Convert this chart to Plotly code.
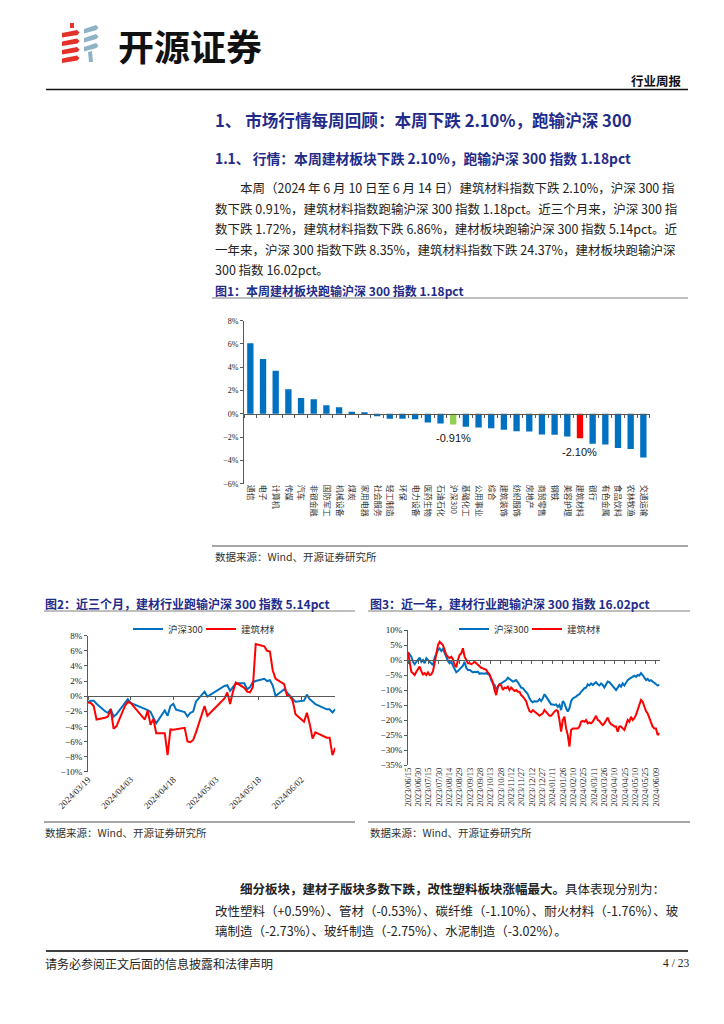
import plotly.graph_objects as go
import pandas as pd

W, H = 724, 1024
def X(px): return px / W
def Y(py): return 1 - py / H

# ---------------- data ----------------
industries = ["通信", "电子", "计算机", "传媒", "汽车", "非银金融", "国防军工", "机械设备",
              "煤炭", "家用电器", "社会服务", "轻工制造", "环保", "电力设备", "医药生物",
              "石油石化", "沪深300", "基础化工", "公用事业", "综合", "建筑装饰", "纺织服饰",
              "房地产", "商贸零售", "钢铁", "美容护理", "建筑材料", "银行", "有色金属",
              "食品饮料", "农林牧渔", "交通运输"]
weekly_chg = [6.06, 4.71, 3.71, 2.11, 1.37, 1.26, 0.74, 0.57, 0.17, 0.14, -0.20, -0.43,
              -0.43, -0.46, -0.74, -0.83, -0.91, -1.11, -1.17, -1.23, -1.37, -1.49, -1.51,
              -1.77, -1.80, -1.94, -2.10, -2.57, -2.63, -2.94, -3.03, -3.74]
highlight = {"沪深300": "#92D050", "建筑材料": "#FF0000"}

dates_3m = ["2024-03-19", "2024-03-20", "2024-03-21", "2024-03-22", "2024-03-25", "2024-03-26",
            "2024-03-27", "2024-03-28", "2024-03-29", "2024-04-01", "2024-04-02", "2024-04-03",
            "2024-04-08", "2024-04-09", "2024-04-10", "2024-04-11", "2024-04-12", "2024-04-15",
            "2024-04-16", "2024-04-17", "2024-04-18", "2024-04-19", "2024-04-22", "2024-04-23",
            "2024-04-24", "2024-04-25", "2024-04-26", "2024-04-29", "2024-04-30", "2024-05-06",
            "2024-05-07", "2024-05-08", "2024-05-09", "2024-05-10", "2024-05-13", "2024-05-14",
            "2024-05-15", "2024-05-16", "2024-05-17", "2024-05-20", "2024-05-21", "2024-05-22",
            "2024-05-23", "2024-05-24", "2024-05-27", "2024-05-28", "2024-05-29", "2024-05-30",
            "2024-05-31", "2024-06-03", "2024-06-04", "2024-06-05", "2024-06-06", "2024-06-07",
            "2024-06-11", "2024-06-12", "2024-06-13", "2024-06-14"]
hs300_3m = [-0.8, -0.6, -0.6, -1.0, -2.0, -2.2, -1.7, -2.7, -2.4, -0.8, -0.4, -0.9,
            -1.65, -1.85, -2.1, -2.9, -3.6, -1.9, -2.6, -1.3, -1.0, -1.8, -2.1, -2.7,
            -2.2, -2.05, -0.7, 0.6, -0.05, 1.35, 1.45, 0.7, 1.2, 1.7, 1.7, 0.9,
            1.2, 1.85, 2.0, 2.3, 2.0, 2.1, 1.4, 0.0, 0.9, 0.5, 0.05, -0.4,
            -0.75, -0.6, 0.2, -0.4, -0.75, -1.05, -1.75, -1.75, -2.15, -1.72]
jc_3m = [-0.85, -0.9, -1.3, -3.1, -2.85, -2.7, -1.7, -4.3, -4.0, -1.3, -0.75, -0.9,
         -3.1, -1.9, -3.8, -3.0, -4.9, -4.9, -7.8, -4.4, -4.45, -4.4, -4.2, -6.0,
         -6.1, -5.8, -4.8, -1.3, -2.6, -0.3, 0.5, -1.05, 0.6, 1.8, 1.1, 0.6,
         0.5, 1.2, 6.9, 6.6, 6.0, 5.9, 3.4, 2.3, 1.6, 0.1, 0.0, -0.6,
         -2.4, -3.4, -2.2, -3.7, -5.6, -4.8, -5.5, -5.5, -7.8, -6.86]
ticks_3m = "2024-03-19"

hs300_1y = [2.6, 1.9, 1.1, -0.6, -1.4, -0.6, 0.0, 0.8, -0.6, 0.0, -1.1, 0.6, 0.0, -0.6, -1.1, -1.7,
            0.8, 2.2, 3.3, 3.9, 3.0, 3.7, 2.2, 1.1, -0.3, -1.1, -0.6, -1.9, -3.3, -4.1, -3.7, -3.0,
            -2.2, -1.9, -0.6, -2.6, -3.3, -3.3, -3.7, -4.1, -3.9, -4.1, -3.9, -4.6, -4.4, -4.6, -4.6, -4.4,
            -4.8, -5.0, -6.7, -7.8, -8.3, -10.0, -8.9, -8.1, -7.8, -7.4, -7.2, -6.7, -5.9, -6.3, -6.7, -7.2,
            -7.0, -6.7, -7.4, -8.3, -9.2, -9.4, -10.0, -10.6, -11.4, -12.8, -13.7, -14.1, -13.7, -13.9, -13.7, -13.0,
            -13.7, -12.8, -11.4, -12.2, -13.0, -14.1, -14.8, -14.8, -15.0, -14.8, -15.6, -15.0, -16.7, -13.7, -14.4, -16.1,
            -17.2, -16.1, -13.7, -12.8, -12.6, -12.2, -11.7, -11.4, -10.6, -10.0, -9.4, -9.2, -8.1, -8.5, -7.8, -8.3,
            -7.8, -7.4, -8.1, -8.5, -7.8, -8.3, -9.2, -8.1, -7.2, -7.4, -8.1, -8.9, -9.4, -10.0, -9.2, -8.3,
            -8.9, -7.8, -8.5, -7.4, -6.7, -6.3, -5.9, -5.6, -5.2, -5.6, -5.0, -5.2, -4.4, -5.0, -5.9, -6.7,
            -6.3, -7.0, -6.7, -7.2, -7.4, -8.1, -8.5, -8.35]
jc_1y = [2.6, -1.5, -3.9, -4.4, -5.0, -3.9, -3.0, -2.2, -3.7, -4.8, -4.4, -5.0, -4.1, -5.0, -4.8, -3.7,
         -1.0, 2.2, 5.0, 6.1, 5.6, 5.0, 3.3, 1.7, 1.1, 0.6, 1.1, 0.3, -1.7, -2.4, 0.0, 1.7,
         2.2, 3.9, 1.1, -0.3, -1.1, -1.1, -1.4, -1.1, -0.6, -1.1, -1.7, -2.2, -2.6, -2.8, -3.0, -3.3,
         -4.1, -4.8, -6.1, -7.4, -10.0, -11.7, -8.9, -8.1, -8.5, -10.0, -9.2, -9.4, -8.9, -10.0, -9.2, -9.7,
         -10.3, -10.0, -10.6, -10.6, -11.7, -12.2, -12.8, -13.7, -15.6, -17.0, -17.4, -16.7, -17.2, -17.8, -18.1, -18.6,
         -18.3, -17.8, -16.7, -17.4, -18.1, -18.6, -18.6, -17.8, -17.2, -16.7, -17.0, -20.0, -23.9, -20.0, -18.9, -22.8,
         -25.0, -28.9, -23.3, -22.8, -22.8, -22.8, -22.8, -22.2, -20.6, -20.3, -20.6, -20.0, -21.1, -20.8, -21.1, -20.6,
         -19.7, -18.6, -20.0, -20.3, -21.1, -21.7, -21.1, -20.0, -19.2, -20.6, -21.4, -21.7, -22.2, -22.2, -23.9, -22.2,
         -22.2, -22.8, -23.3, -21.7, -20.0, -20.6, -18.9, -20.0, -19.4, -18.3, -16.7, -14.4, -13.3, -13.9, -15.6, -17.0,
         -17.8, -19.4, -21.1, -22.2, -22.8, -22.8, -25.0, -24.37]
dates_1y = pd.date_range("2023-06-15", "2024-06-14", periods=len(hs300_1y))
ticks_1y = "2023-06-15"

series_names = ["沪深300", "建筑材料"]

# ---------------- style ----------------
CJK = "Noto Sans CJK SC"
SERIF = "Liberation Serif"
NAVY = "#1F2C8A"
BLUE = "#0070C0"
RED = "#FF0000"
AX = "#595959"
DAY = 86400000

fig = go.Figure()

# Chart 1: bars
bar_colors = [highlight.get(n, BLUE) for n in industries]
fig.add_trace(go.Bar(x=industries, y=weekly_chg, marker_color=bar_colors, marker_line_width=0,
                     xaxis="x", yaxis="y", showlegend=False, hoverinfo="skip"))
fig.add_trace(go.Scatter(x=[-0.5, len(industries) - 0.5], y=[0, 0], mode="lines", opacity=0,
                         xaxis="x2", yaxis="y", showlegend=False, hoverinfo="skip"))

# Chart 2: three months
fig.add_trace(go.Scatter(x=dates_3m, y=hs300_3m, mode="lines", name=series_names[0],
                         line=dict(color=BLUE, width=2), xaxis="x3", yaxis="y3", legend="legend"))
fig.add_trace(go.Scatter(x=dates_3m, y=jc_3m, mode="lines", name=series_names[1],
                         line=dict(color=RED, width=2), xaxis="x3", yaxis="y3", legend="legend"))
fig.add_trace(go.Scatter(x=[dates_3m[0], dates_3m[-1]], y=[0, 0], mode="lines", opacity=0,
                         xaxis="x4", yaxis="y3", showlegend=False, hoverinfo="skip"))

# Chart 3: one year
fig.add_trace(go.Scatter(x=dates_1y, y=hs300_1y, mode="lines", name=series_names[0],
                         line=dict(color=BLUE, width=2), xaxis="x5", yaxis="y5", legend="legend2"))
fig.add_trace(go.Scatter(x=dates_1y, y=jc_1y, mode="lines", name=series_names[1],
                         line=dict(color=RED, width=2), xaxis="x5", yaxis="y5", legend="legend2"))
fig.add_trace(go.Scatter(x=[dates_1y[0], dates_1y[-1]], y=[0, 0], mode="lines", opacity=0,
                         xaxis="x6", yaxis="y5", showlegend=False, hoverinfo="skip"))

def yax(dom, rng, dtick, size):
    return dict(domain=dom, range=rng, dtick=dtick, ticksuffix="%", showgrid=False, zeroline=False,
                showline=True, linecolor=AX, linewidth=1, ticks="outside", ticklen=3, tickcolor=AX,
                tickfont=dict(family=SERIF, size=size, color="#222"), fixedrange=True)

def zero_ax(over, pos, rng, tick0, dtick, typ):
    return dict(overlaying=over, anchor="free", position=pos, range=rng, type=typ, tick0=tick0,
                dtick=dtick, ticks="outside", ticklen=3, tickcolor=AX, showticklabels=False,
                showline=True, linecolor=AX, linewidth=1, showgrid=False, zeroline=False)

n = len(industries)
legend_common = dict(orientation="h", xanchor="left", yanchor="middle",
                     font=dict(family=CJK, size=9.5, color="#333"), itemwidth=30,
                     entrywidth=28, entrywidthmode="pixels", bgcolor="rgba(0,0,0,0)")
fig.update_layout(
    xaxis=dict(domain=[X(244), X(649.7)], anchor="y", type="category", range=[-0.5, n - 0.5],
               tickangle=90, tickfont=dict(family=CJK, size=8, color="#333"), showline=False,
               ticks="", showgrid=False, zeroline=False),
    yaxis=dict(yax([Y(483.7), Y(320.7)], [-6, 8], 2, 8), anchor="x"),
    xaxis2=zero_ax("x", Y(413.8), [-0.5, n - 0.5], -0.5, 1, "linear"),
    xaxis3=dict(domain=[X(88), X(335.3)], anchor="y3", type="date",
                range=["2024-03-19", "2024-06-14"], tick0=ticks_3m, dtick=15 * DAY,
                tickformat="%Y/%m/%d", tickangle=-45, tickfont=dict(family=SERIF, size=9, color="#222"),
                showline=False, ticks="", showgrid=False, zeroline=False),
    yaxis3=dict(yax([Y(771.7), Y(635.7)], [-10, 8], 2, 9), anchor="x3"),
    xaxis4=zero_ax("x3", Y(696.2), ["2024-03-19", "2024-06-14"], ticks_3m, 15 * DAY, "date"),
    xaxis5=dict(domain=[X(408), X(660)], anchor="y5", type="date",
                range=["2023-06-15", "2024-06-15"], tick0=ticks_1y, dtick=15 * DAY,
                tickformat="%Y/%m/%d", tickangle=-90, tickfont=dict(family=SERIF, size=8.5, color="#222"),
                showline=False, ticks="", showgrid=False, zeroline=False),
    yaxis5=dict(yax([Y(765), Y(630)], [-35, 10], 5, 9), anchor="x5"),
    xaxis6=zero_ax("x5", Y(660.3), ["2023-06-15", "2024-06-15"], ticks_1y, 15 * DAY, "date"),
    bargap=0.5,
    legend=dict(legend_common, x=X(128), y=Y(629)),
    legend2=dict(legend_common, x=X(454), y=Y(629)),
    width=W, height=H, margin=dict(l=0, r=0, t=0, b=0),
    paper_bgcolor="white", plot_bgcolor="white", template="none",
)

# bar value labels for highlighted bars
for name, val in zip(industries, weekly_chg):
    if name in highlight:
        fig.add_annotation(x=name, y=val, xref="x", yref="y", text=f"{val:.2f}%", showarrow=False,
                           yanchor="top", yshift=-6,
                           font=dict(family="Liberation Sans", size=11, color="#111"))

def txt(x, y, text, size=12, color="#1a1a1a", family=CJK, xanchor="left", bold=False):
    xx = x - 3 if xanchor == "left" else x + 3
    fig.add_annotation(x=X(xx), y=Y(y), xref="paper", yref="paper", text=f"<b>{text}</b>" if bold else text,
                       showarrow=False, xanchor=xanchor, yanchor="middle", align="left",
                       font=dict(family=family, size=size, color=color))

def hline(x0, x1, y, color="#000", width=1):
    fig.add_shape(type="line", xref="paper", yref="paper", x0=X(x0), x1=X(x1), y0=Y(y), y1=Y(y),
                  line=dict(color=color, width=width))

def poly(pts, color):
    path = "M " + " L ".join(f"{X(a):.5f},{Y(b):.5f}" for a, b in pts) + " Z"
    fig.add_shape(type="path", xref="paper", yref="paper", path=path, fillcolor=color,
                  line=dict(width=0))

# ---- header / logo ----
LOGO_RED = "#E2322A"
LOGO_BLUE = "#8FB3C6"
poly([(70, 23), (74, 23), (74, 28), (70, 28)], LOGO_RED)
for yy in (30, 38.5, 47, 55.5):
    poly([(62, yy + 3), (77, yy), (79.5, yy + 2.5), (77.5, yy + 5), (62, yy + 7.5)], LOGO_RED)
for yy in (25, 34, 43):
    poly([(84, yy + 4), (96, yy), (98.5, yy + 2.5), (96.5, yy + 5), (84, yy + 8.5)], LOGO_BLUE)
poly([(88, 52), (92, 51), (93, 62), (89, 62)], LOGO_BLUE)

txt(119, 45, "开源证券", size=36, color="#111", bold=True)
txt(681, 80, "行业周报", size=12.5, color="#111", xanchor="right", bold=True)
hline(46, 688, 89.5, "#111", 1.5)

# ---- headings and body ----
txt(216, 120, "1、 市场行情每周回顾：本周下跌 2.10%，跑输沪深 300", size=16.6, color=NAVY, bold=True)
txt(216, 158, "1.1、 行情：本周建材板块下跌 2.10%，跑输沪深 300 指数 1.18pct", size=13.8, color=NAVY, bold=True)
body = [
    (241, 187, "本周（2024 年 6 月 10 日至 6 月 14 日）建筑材料指数下跌 2.10%，沪深 300 指"),
    (216, 208, "数下跌 0.91%，建筑材料指数跑输沪深 300 指数 1.18pct。近三个月来，沪深 300 指"),
    (216, 228, "数下跌 1.72%，建筑材料指数下跌 6.86%，建材板块跑输沪深 300 指数 5.14pct。近"),
    (216, 249, "一年来，沪深 300 指数下跌 8.35%，建筑材料指数下跌 24.37%，建材板块跑输沪深"),
    (216, 269, "300 指数 16.02pct。"),
]
for x, y, t in body:
    txt(x, y, t, size=12.5, color="#222")

txt(216, 290, "图1：本周建材板块跑输沪深 300 指数 1.18pct", size=12, color=NAVY, bold=True)
hline(212, 688, 298, "#7F7F7F", 1)
hline(212, 688, 546, "#A6A6A6", 2)
txt(216, 556, "数据来源：Wind、开源证券研究所", size=10.5, color="#333")

txt(46, 603, "图2：近三个月，建材行业跑输沪深 300 指数 5.14pct", size=12, color=NAVY, bold=True)
txt(371, 603, "图3：近一年，建材行业跑输沪深 300 指数 16.02pct", size=12, color=NAVY, bold=True)
hline(44, 355, 611, "#7F7F7F", 1)
hline(368, 690, 611, "#7F7F7F", 1)
hline(44, 355, 822, "#A6A6A6", 2)
hline(368, 690, 822, "#A6A6A6", 2)
txt(46, 832, "数据来源：Wind、开源证券研究所", size=10.5, color="#333")
txt(371, 832, "数据来源：Wind、开源证券研究所", size=10.5, color="#333")

txt(241, 888, "<b>细分板块，建材子版块多数下跌，改性塑料板块涨幅最大。</b>具体表现分别为：", size=12.5, color="#222")
txt(216, 910, "改性塑料（+0.59%）、管材（-0.53%）、碳纤维（-1.10%）、耐火材料（-1.76%）、玻", size=12.5, color="#222")
txt(216, 930, "璃制造（-2.73%）、玻纤制造（-2.75%）、水泥制造（-3.02%）。", size=12.5, color="#222")

hline(46, 688, 951, "#404040", 2)
txt(46, 963, "请务必参阅正文后面的信息披露和法律声明", size=12, color="#222")
txt(688, 963, "4 / 23", size=11.5, color="#222", family=SERIF, xanchor="right")

fig.write_html("out.html", config={"displayModeBar": False},
               post_script="document.body.style.margin='0';")
